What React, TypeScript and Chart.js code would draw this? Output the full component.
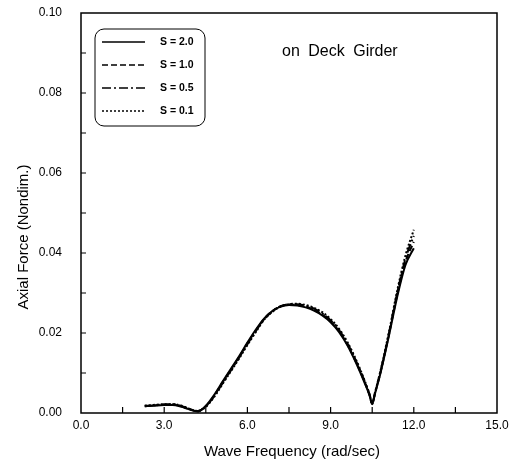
import { useEffect, useRef } from "react";
import { Chart, registerables } from "chart.js";

Chart.register(...registerables);

// Wave frequency (rad/sec)
const frequency = [
  2.3, 2.6, 3.0, 3.3, 3.6, 3.9, 4.2, 4.5, 4.8, 5.1, 5.4, 5.7, 6.0, 6.3, 6.6, 6.9, 7.2, 7.5,
  7.8, 8.1, 8.4, 8.7, 9.0, 9.3, 9.6, 9.9, 10.2, 10.4, 10.5, 10.6, 10.8, 11.1, 11.4, 11.7, 12.0,
];

// Axial force (nondim.) for each S
const forceS20 = [
  0.0017, 0.0018, 0.002, 0.002, 0.0016, 0.0009, 0.0004, 0.0018, 0.0045, 0.0078, 0.011, 0.0142,
  0.0176, 0.0208, 0.0236, 0.0255, 0.0266, 0.027, 0.0269, 0.0264, 0.0256, 0.0244, 0.0227, 0.0203,
  0.017, 0.0128, 0.008, 0.0045, 0.0022, 0.0048, 0.01, 0.0192, 0.029, 0.037, 0.0412,
];
const forceS10 = [
  0.0017, 0.0019, 0.0021, 0.0021, 0.0017, 0.001, 0.0004, 0.0017, 0.0043, 0.0076, 0.0108, 0.014,
  0.0174, 0.0206, 0.0235, 0.0255, 0.0267, 0.0271, 0.027, 0.0266, 0.0258, 0.0246, 0.0229, 0.0205,
  0.0172, 0.013, 0.0082, 0.0046, 0.0023, 0.0049, 0.0102, 0.0195, 0.0295, 0.0378, 0.0428,
];
const forceS05 = [
  0.0018, 0.0019, 0.0021, 0.0022, 0.0018, 0.001, 0.0005, 0.0016, 0.0042, 0.0074, 0.0106, 0.0138,
  0.0172, 0.0204, 0.0234, 0.0254, 0.0267, 0.0272, 0.0272, 0.0268, 0.0261, 0.0249, 0.0232, 0.0208,
  0.0175, 0.0133, 0.0084, 0.0047, 0.0024, 0.005, 0.0104, 0.0198, 0.03, 0.0386, 0.0443,
];
const forceS01 = [
  0.0018, 0.002, 0.0022, 0.0022, 0.0019, 0.0011, 0.0005, 0.0015, 0.004, 0.0072, 0.0104, 0.0136,
  0.017, 0.0202, 0.0233, 0.0253, 0.0266, 0.0272, 0.0273, 0.027, 0.0263, 0.0252, 0.0235, 0.0211,
  0.0178, 0.0136, 0.0086, 0.0048, 0.0025, 0.0051, 0.0106, 0.0201, 0.0305, 0.0394, 0.0458,
];

const seriesLabels = ["S = 2.0", "S = 1.0", "S = 0.5", "S = 0.1"];
const seriesValues = [forceS20, forceS10, forceS05, forceS01];
const seriesDashes: number[][] = [[], [6, 3], [9, 3, 2, 3], [2, 2]];

const xMinorTicks = [1.5, 3, 4.5, 6, 7.5, 9, 10.5, 12, 13.5];
const yMinorTicks = [0.01, 0.02, 0.03, 0.04, 0.05, 0.06, 0.07, 0.08, 0.09];

const annotationText = "on Deck Girder";
const xTitle = "Wave Frequency (rad/sec)";
const yTitle = "Axial Force (Nondim.)";

const FONT = "Arial, 'Liberation Sans', sans-serif";

const decorPlugin = {
  id: "decor",
  afterDatasetsDraw(chart: any) {
    const { ctx, chartArea } = chart;
    const { left, right, top, bottom } = chartArea;
    const xs = chart.scales.x;
    const ys = chart.scales.y;
    ctx.save();
    ctx.strokeStyle = "#000";
    ctx.fillStyle = "#000";

    // frame
    ctx.lineWidth = 1.5;
    ctx.strokeRect(left, top, right - left, bottom - top);

    // inward ticks
    ctx.lineWidth = 1.2;
    ctx.beginPath();
    for (const v of xMinorTicks) {
      const px = xs.getPixelForValue(v);
      ctx.moveTo(px, bottom);
      ctx.lineTo(px, bottom - 6);
    }
    for (const v of yMinorTicks) {
      const py = ys.getPixelForValue(v);
      ctx.moveTo(left, py);
      ctx.lineTo(left + 5, py);
    }
    ctx.stroke();

    // legend box
    const bx = left + 14;
    const by = top + 16;
    const bw = 110;
    const bh = 97;
    ctx.lineWidth = 1;
    ctx.beginPath();
    ctx.roundRect(bx, by, bw, bh, 9);
    ctx.stroke();

    const rowY = [by + 13, by + 36, by + 59, by + 82];
    ctx.font = `bold 10.5px ${FONT}`;
    ctx.textBaseline = "middle";
    ctx.textAlign = "left";
    seriesLabels.forEach((lab, i) => {
      ctx.lineWidth = 1.5;
      ctx.setLineDash(seriesDashes[i]);
      ctx.beginPath();
      ctx.moveTo(bx + 7, rowY[i]);
      ctx.lineTo(bx + 50, rowY[i]);
      ctx.stroke();
      ctx.setLineDash([]);
      ctx.fillText(lab, bx + 65, rowY[i]);
    });

    // annotation
    ctx.font = `16px ${FONT}`;
    ctx.textAlign = "left";
    if ("wordSpacing" in ctx) (ctx as any).wordSpacing = "4px";
    ctx.fillText(annotationText, xs.getPixelForValue(7.25), top + 39);
    if ("wordSpacing" in ctx) (ctx as any).wordSpacing = "0px";

    // axis titles
    ctx.font = `15px ${FONT}`;
    ctx.textAlign = "center";
    ctx.fillText(xTitle, (left + right) / 2 + 3, 452);
    ctx.save();
    ctx.translate(24, 237);
    ctx.rotate(-Math.PI / 2);
    ctx.fillText(yTitle, 0, 0);
    ctx.restore();

    ctx.restore();
  },
};

export default function App() {
  const canvasRef = useRef<HTMLCanvasElement | null>(null);

  useEffect(() => {
    const canvas = canvasRef.current;
    if (!canvas) return;
    const chart = new Chart(canvas, {
      type: "line",
      data: {
        datasets: seriesLabels.map((label, i) => ({
          label,
          data: frequency.map((x, j) => ({ x, y: seriesValues[i][j] })),
          borderColor: "#000",
          backgroundColor: "#000",
          borderWidth: 2,
          borderDash: seriesDashes[i],
          pointRadius: 0,
          fill: false,
          cubicInterpolationMode: "monotone" as const,
        })),
      },
      options: {
        responsive: false,
        animation: false,
        layout: { padding: { top: 13, right: 15, left: 0, bottom: 0 } },
        plugins: { legend: { display: false }, tooltip: { enabled: false } },
        scales: {
          x: {
            type: "linear",
            min: 0,
            max: 15,
            grid: { display: false, drawTicks: false },
            border: { display: false },
            ticks: {
              stepSize: 3,
              padding: 5,
              color: "#000",
              font: { size: 12, family: FONT },
              callback: (v: any) => Number(v).toFixed(1),
            },
            afterFit: (s: any) => {
              s.height = 50;
              s.paddingLeft = 0;
              s.paddingRight = 0;
            },
          },
          y: {
            type: "linear",
            min: 0,
            max: 0.1,
            grid: { display: false, drawTicks: false },
            border: { display: false },
            ticks: {
              stepSize: 0.02,
              padding: 19,
              color: "#000",
              font: { size: 12, family: FONT },
              callback: (v: any) => Number(v).toFixed(2),
            },
            afterFit: (s: any) => {
              s.width = 81;
              s.paddingTop = 0;
              s.paddingBottom = 0;
            },
          },
        },
      },
      plugins: [decorPlugin],
    });
    return () => chart.destroy();
  }, []);

  return (
    <div style={{ position: "fixed", left: 0, top: 0, width: 512, height: 463, background: "#fff" }}>
      <canvas ref={canvasRef} width={512} height={463} />
    </div>
  );
}
